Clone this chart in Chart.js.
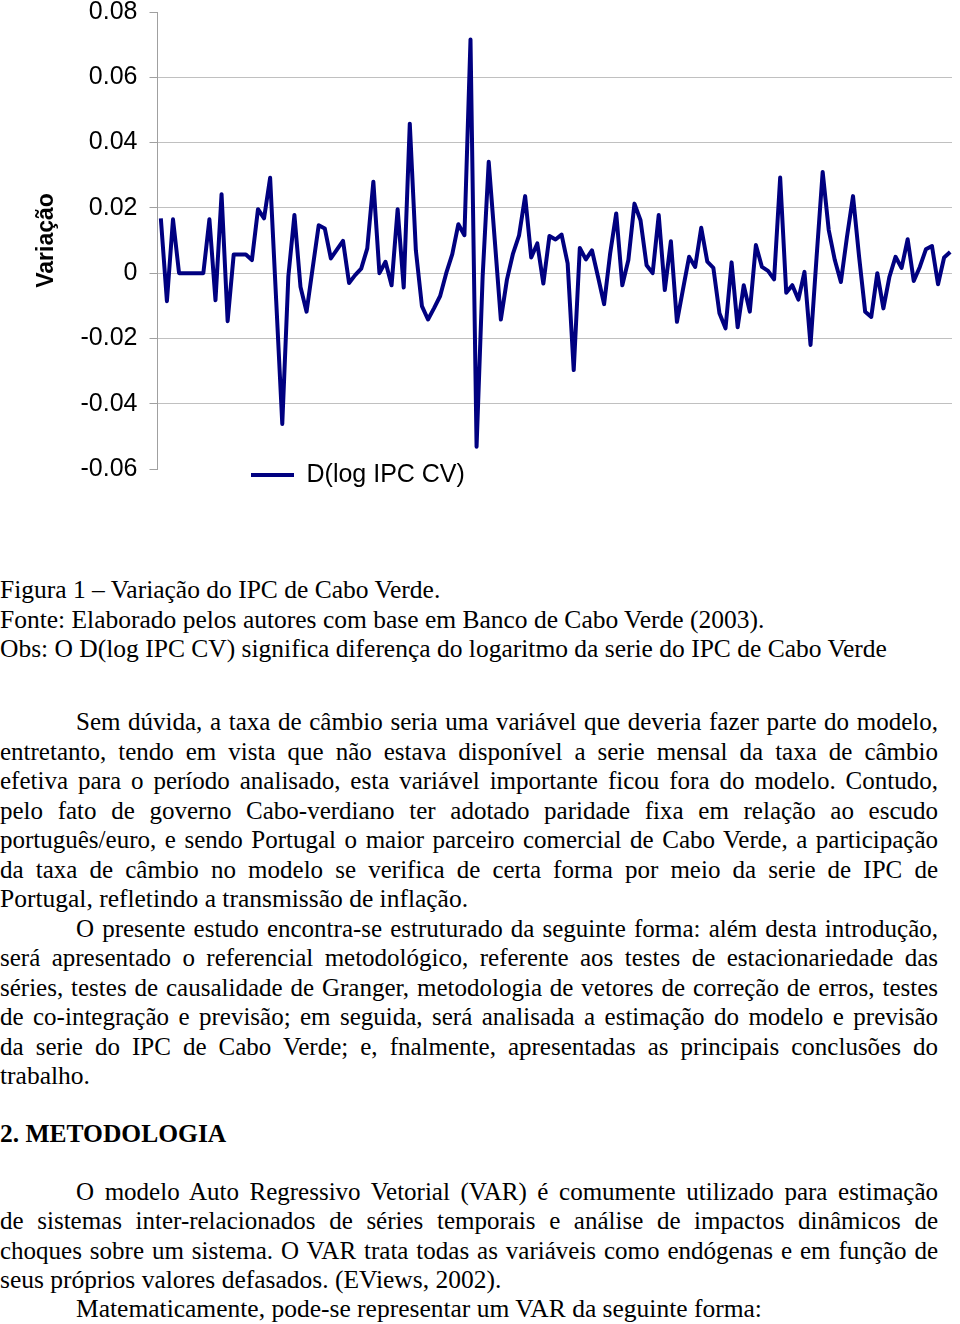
<!DOCTYPE html>
<html lang="pt">
<head>
<meta charset="utf-8">
<title>Variação do IPC de Cabo Verde</title>
<script src="https://cdn.jsdelivr.net/npm/chart.js@4.4.1/dist/chart.umd.min.js"></script>
<style>
  body { margin: 0; background: #fff; width: 960px; height: 1324px; position: relative; overflow: hidden; }
  #chartBox { position: absolute; left: 0; top: 0; width: 960px; height: 514px; }
  .txt { position: absolute; left: 0; width: 938px; margin: 0;
         font-family: "Liberation Serif", "Times New Roman", serif; font-size: 25.5px;
         line-height: 29.5px; color: #000; }
  .j { text-align: justify; text-align-last: justify; font-size: 25px; }
  .ind { text-indent: 76px; }
  .head { font-weight: bold; }
</style>
</head>
<body>
<div id="chartBox"><canvas id="ipcChart" width="960" height="514"></canvas></div>

<div class="txt" style="top:575px">
  <div>Figura 1 – Variação do IPC de Cabo Verde.</div>
  <div>Fonte: Elaborado pelos autores com base em Banco de Cabo Verde (2003).</div>
  <div>Obs: O D(log IPC CV) significa diferença do logaritmo da serie do IPC de Cabo Verde</div>
</div>

<div class="txt" style="top:707px">
  <div class="j ind">Sem dúvida, a taxa de câmbio seria uma variável que deveria fazer parte do modelo,</div>
  <div class="j">entretanto, tendo em vista que não estava disponível a serie mensal da taxa de câmbio</div>
  <div class="j">efetiva para o período analisado, esta variável importante ficou fora do modelo. Contudo,</div>
  <div class="j">pelo fato de governo Cabo-verdiano ter adotado paridade fixa em relação ao escudo</div>
  <div class="j">português/euro, e sendo Portugal o maior parceiro comercial de Cabo Verde, a participação</div>
  <div class="j">da taxa de câmbio no modelo se verifica de certa forma por meio da serie de IPC de</div>
  <div>Portugal, refletindo a transmissão de inflação.</div>
</div>

<div class="txt" style="top:913.5px">
  <div class="j ind">O presente estudo encontra-se estruturado da seguinte forma: além desta introdução,</div>
  <div class="j">será apresentado o referencial metodológico, referente aos testes de estacionariedade das</div>
  <div class="j">séries, testes de causalidade de Granger, metodologia de vetores de correção de erros, testes</div>
  <div class="j">de co-integração e previsão; em seguida, será analisada a estimação do modelo e previsão</div>
  <div class="j">da serie do IPC de Cabo Verde; e, fnalmente, apresentadas as principais conclusões do</div>
  <div>trabalho.</div>
</div>

<div class="txt head" style="top:1119px">2. METODOLOGIA</div>

<div class="txt" style="top:1176.5px">
  <div class="j ind">O modelo Auto Regressivo Vetorial (VAR) é comumente utilizado para estimação</div>
  <div class="j">de sistemas inter-relacionados de séries temporais e análise de impactos dinâmicos de</div>
  <div class="j">choques sobre um sistema. O VAR trata todas as variáveis como endógenas e em função de</div>
  <div>seus próprios valores defasados. (EViews, 2002).</div>
</div>

<div class="txt" style="top:1294px">
  <div class="ind">Matematicamente, pode-se representar um VAR da seguinte forma:</div>
</div>

<script>
// monthly change of log CPI, Cabo Verde
const ipcDiff = [
  0.0168, -0.0086, 0.0165, 0, 0, 0, 0, 0, 0.0165, -0.0083,
  0.0242, -0.0147, 0.0057, 0.0057, 0.0057, 0.004, 0.0196, 0.0168, 0.0292, -0.0085,
  -0.0462, -0.001, 0.0178, -0.0042, -0.0118, 0.0015, 0.0147, 0.0137, 0.0045, 0.0072,
  0.0099, -0.003, -0.0006, 0.0014, 0.0076, 0.028, 0, 0.0035, -0.0037, 0.0196,
  -0.0044, 0.0458, 0.007, -0.0101, -0.0142, -0.0107, -0.007, 0, 0.0058, 0.015,
  0.0116, 0.0716, -0.0532, -0.001, 0.0341, 0.01, -0.0142, -0.002, 0.006, 0.0116,
  0.0236, 0.0048, 0.0091, -0.0032, 0.0114, 0.0103, 0.0118, 0.003, -0.0297, 0.0077,
  0.0042, 0.007, -0.0011, -0.0095, 0.006, 0.0183, -0.0037, 0.004, 0.0213, 0.0162,
  0.0024, 0, 0.0178, -0.0052, 0.0098, -0.0149, -0.0049, 0.005, 0.0019, 0.0139,
  0.0035, 0.0016, -0.0123, -0.0169, 0.0033, -0.0166, -0.0037, -0.0118, 0.0086, 0.0019,
  0.0007, -0.0019, 0.0293, -0.006, -0.0037, -0.0081, 0.0004, -0.022, 0.005, 0.031,
  0.0132, 0.004, -0.0027, 0.0111, 0.0236, 0.005, -0.0118, -0.0134, 0, -0.0108,
  -0.0011, 0.005, 0.0016, 0.0104, -0.0024, 0.0019, 0.0073, 0.0083, -0.0034, 0.0048,
  0.0065
];
const periods = ipcDiff.map((_, i) => i);
const yTicks = [0.08, 0.06, 0.04, 0.02, 0, -0.02, -0.04, -0.06];
const seriesName = "D(log IPC CV)";
const axisTitle = "Variação";

// legend sits over the bottom of the plot, like the original
const moveLegend = {
  id: "moveLegend",
  afterLayout(chart) {
    const lg = chart.legend;
    const dx = 241, dy = -16.5;
    lg.left += dx; lg.right += dx;
    lg.top += dy; lg.bottom += dy;
  }
};

const sans = "'Liberation Sans', Arial, sans-serif";

new Chart(document.getElementById("ipcChart"), {
  type: "line",
  data: {
    datasets: [{
      label: seriesName,
      data: periods.map((p, i) => ({ x: p, y: ipcDiff[i] })),
      borderColor: "#000080",
      backgroundColor: "#000080",
      borderWidth: 4,
      borderJoinStyle: "round",
      pointRadius: 0,
      tension: 0
    }]
  },
  options: {
    responsive: false,
    animation: false,
    layout: { padding: { left: 0, right: 8, top: 0, bottom: 0 } },
    plugins: {
      tooltip: { enabled: false },
      legend: {
        position: "bottom",
        align: "start",
        labels: {
          usePointStyle: true,
          pointStyle: "line",
          pointStyleWidth: 43,
          padding: 10,
          color: "#000",
          font: { family: sans, size: 25 }
        }
      }
    },
    scales: {
      x: {
        type: "linear",
        min: -0.55,
        max: periods[periods.length - 1] + 0.3,
        display: false
      },
      y: {
        min: yTicks[yTicks.length - 1],
        max: yTicks[0],
        afterBuildTicks: s => { s.ticks = yTicks.map(v => ({ value: v })); },
        afterFit: s => { s.width = 157.5; s.paddingTop = 12; s.paddingBottom = 12; },
        border: { display: true, color: "#a0a0a0", width: 1 },
        grid: {
          color: c => (c.tick && (c.tick.value === yTicks[0] || c.tick.value === yTicks[yTicks.length - 1]))
            ? "rgba(0,0,0,0)" : "#c0c0c0",
          tickColor: "#a0a0a0",
          drawTicks: true,
          tickLength: 8
        },
        ticks: {
          color: "#000",
          padding: 12,
          font: { family: sans, size: 25, lineHeight: 1 },
          callback: v => (v === 0 ? "0" : v.toFixed(2))
        },
        title: {
          display: true,
          text: axisTitle,
          color: "#000",
          padding: { top: 33, bottom: 0 },
          font: { family: sans, size: 23, weight: "bold" }
        }
      }
    }
  },
  plugins: [moveLegend]
});
</script>
</body>
</html>
